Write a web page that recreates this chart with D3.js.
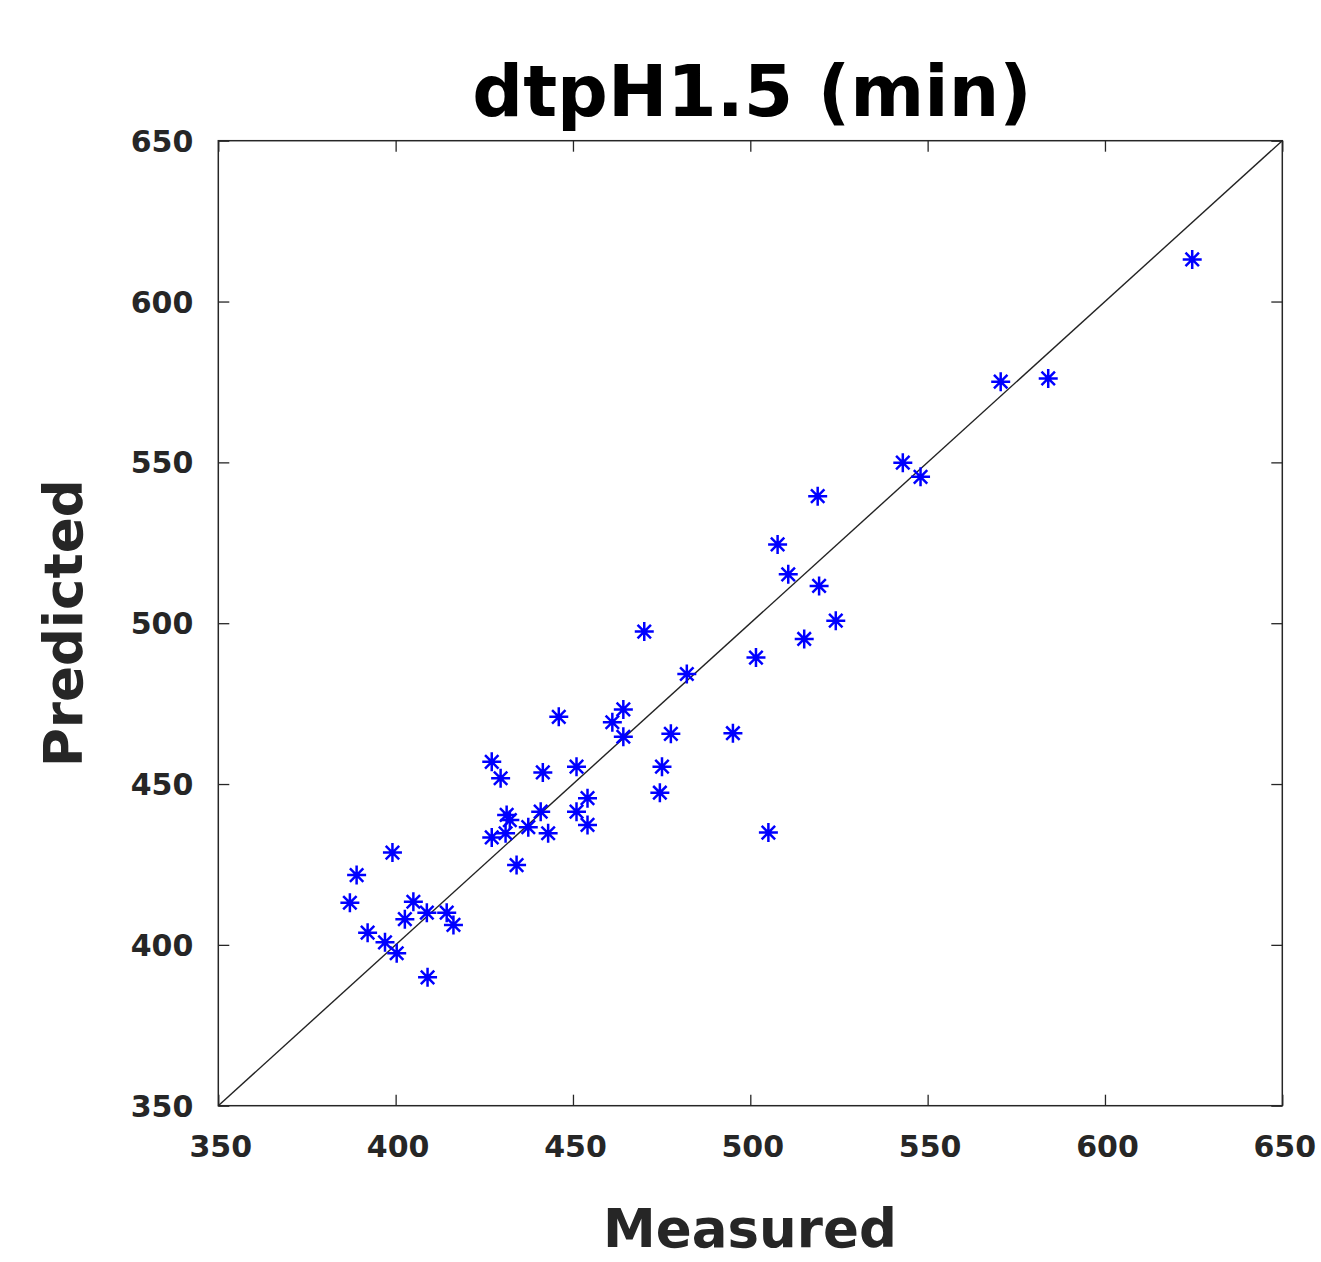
<!DOCTYPE html>
<html>
<head>
<meta charset="utf-8">
<script src="https://cdn.jsdelivr.net/npm/d3@7"></script>
<style>
  html, body { margin: 0; padding: 0; background: #fff; }
  svg { display: block; }
  text { font-family: "DejaVu Sans", sans-serif; font-weight: bold; }
</style>
</head>
<body>
<svg id="chart" width="1321" height="1262"></svg>
<script>
// Data (measured vs predicted)
const measured = [427.1, 429.6, 441.5, 451.0, 454.1, 451.0, 454.1, 431.3, 432.2, 440.9,
                  437.4, 443.0, 427.1, 431.0, 434.1, 399.1, 389.0, 387.1, 405.0, 402.6,
                  408.8, 414.4, 416.3, 392.1, 397.0, 400.3, 409.0, 470.1, 482.1, 501.6,
                  515.2, 524.1, 446.0, 464.2, 461.1, 464.2, 477.6, 495.1, 475.1, 474.5,
                  505.1, 543.0, 548.0, 519.0, 507.7, 510.7, 519.4, 570.6, 584.0, 624.6];
const predicted = [456.9, 451.8, 453.6, 455.4, 445.6, 441.4, 437.3, 440.4, 438.8, 441.4,
                   436.6, 434.7, 433.4, 434.7, 424.8, 428.7, 421.7, 413.1, 413.4, 408.0,
                   410.0, 410.0, 406.2, 403.8, 400.8, 397.4, 389.9, 497.4, 484.2, 489.3,
                   495.1, 500.8, 470.9, 473.2, 469.2, 464.7, 465.6, 465.8, 455.4, 447.3,
                   434.9, 549.9, 545.5, 539.5, 524.5, 515.2, 511.6, 575.1, 576.1, 613.1];
const tickValues = [350, 400, 450, 500, 550, 600, 650];
const domain = [350, 650];
const titleText = "dtpH1.5 (min)";
const xLabel = "Measured";
const yLabel = "Predicted";

const svg = d3.select("#chart");
const L = 218.3, R = 1282.3, T = 140.7, B = 1105.7;
const x = d3.scaleLinear().domain(domain).range([L, R]);
const y = d3.scaleLinear().domain(domain).range([B, T]);
const axisColor = "#262626";
const tickLen = 11;

// Box
svg.append("rect")
  .attr("x", L).attr("y", T).attr("width", R - L).attr("height", B - T)
  .attr("fill", "none").attr("stroke", axisColor).attr("stroke-width", 1.5);

function styleAxis(g) {
  g.select(".domain").remove();
  g.selectAll(".tick line").attr("stroke", axisColor).attr("stroke-width", 1.3);
  g.selectAll(".tick text").attr("fill", axisColor).attr("font-size", 30)
    .attr("font-family", "DejaVu Sans").attr("font-weight", "bold");
}
const gx = svg.append("g").attr("transform", `translate(0,${B})`)
  .call(d3.axisBottom(x).tickValues(tickValues).tickSizeInner(-tickLen).tickSizeOuter(0));
styleAxis(gx);
gx.selectAll(".tick text").attr("dy", "0.71em").attr("y", 30).attr("dx", 2);

const gy = svg.append("g").attr("transform", `translate(${L},0)`)
  .call(d3.axisLeft(y).tickValues(tickValues).tickSizeInner(-tickLen).tickSizeOuter(0));
styleAxis(gy);
gy.selectAll(".tick text").attr("x", -25).attr("dy", "0.35em");

const gxt = svg.append("g").attr("transform", `translate(0,${T})`)
  .call(d3.axisTop(x).tickValues(tickValues).tickSizeInner(-tickLen).tickSizeOuter(0).tickFormat(""));
styleAxis(gxt);
const gyr = svg.append("g").attr("transform", `translate(${R},0)`)
  .call(d3.axisRight(y).tickValues(tickValues).tickSizeInner(-tickLen).tickSizeOuter(0).tickFormat(""));
styleAxis(gyr);

// Identity line
svg.append("line")
  .attr("x1", x(domain[0])).attr("y1", y(domain[0]))
  .attr("x2", x(domain[1])).attr("y2", y(domain[1]))
  .attr("stroke", "#222").attr("stroke-width", 1.4);

// Asterisk markers
const r = 9.5, d = r * Math.SQRT1_2;
const starPath = `M0,${-r}L0,${r}M${-r},0L${r},0M${-d},${-d}L${d},${d}M${-d},${d}L${d},${-d}`;
svg.append("g").selectAll("path")
  .data(measured.map((m, i) => [m, predicted[i]]))
  .join("path")
  .attr("transform", p => `translate(${x(p[0])},${y(p[1])})`)
  .attr("d", starPath)
  .attr("stroke", "#0000ff").attr("stroke-width", 2.5).attr("fill", "none");

// Title and axis labels
svg.append("text").attr("x", 752).attr("y", 116)
  .attr("text-anchor", "middle").attr("font-size", 71).attr("fill", "#000")
  .text(titleText);
svg.append("text").attr("x", 750).attr("y", 1247)
  .attr("text-anchor", "middle").attr("font-size", 53).attr("fill", axisColor)
  .text(xLabel);
svg.append("text").attr("transform", `translate(82,${(T + B) / 2}) rotate(-90)`)
  .attr("text-anchor", "middle").attr("font-size", 53).attr("fill", axisColor)
  .text(yLabel);
</script>
</body>
</html>
